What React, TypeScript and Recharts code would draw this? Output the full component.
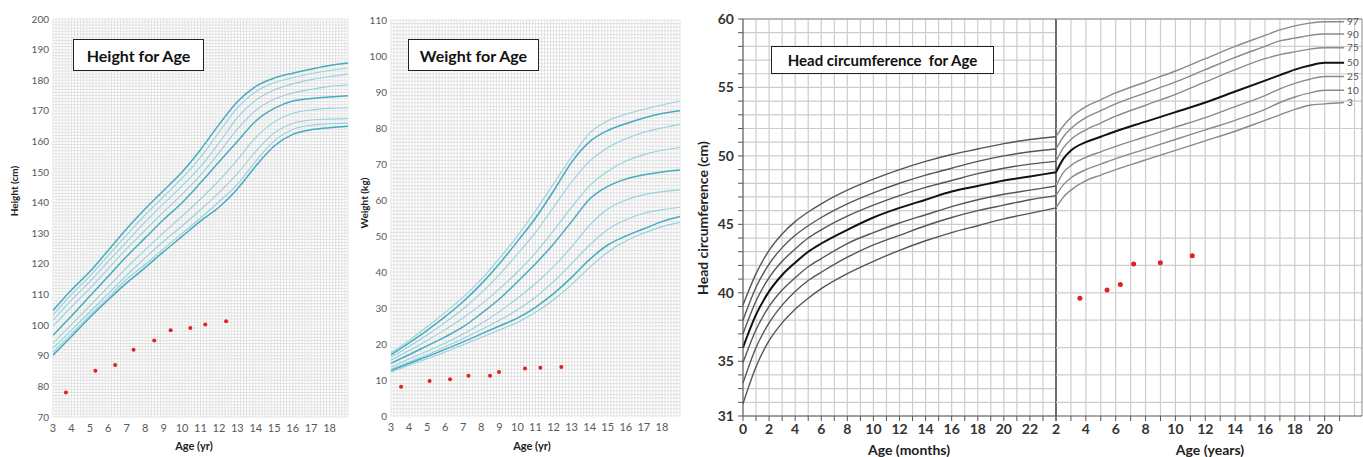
import React from 'react';
import { ComposedChart, Line, XAxis, YAxis, CartesianGrid, ReferenceLine, LabelList } from 'recharts';

// ---- Height for age (cm), ages 3-19 yr, percentile curves (top to bottom)
const GROWTH_AGES = [3, 4, 5, 6, 7, 8, 9, 10, 11, 12, 13, 14, 15, 16, 17, 18, 19];
const HT_P97 = [104.8, 111.5, 117.5, 124.5, 131.5, 138, 144, 150, 157.3, 165.5, 173, 178, 180.7, 182.3, 183.6, 184.8, 185.6];
const HT_P95 = [103.3, 110, 116, 122.8, 129.5, 136, 142, 148, 154.8, 163, 171, 176.3, 179.2, 180.8, 182.2, 183.2, 184];
const HT_P90 = [101.6, 108.2, 114.2, 120.8, 127.3, 133.7, 139.7, 145.5, 151.8, 159.5, 167.8, 173.5, 176.8, 178.8, 180.2, 181.2, 182];
const HT_P75 = [99.7, 106, 112, 118.5, 125, 131, 137, 142.7, 149, 156.3, 164, 170.2, 173.8, 175.8, 177, 178, 178.5];
const HT_P50 = [96.7, 103, 109.5, 116, 122.5, 128.5, 134.5, 140, 146.5, 153.3, 160, 166.7, 170.8, 173.2, 174, 174.5, 174.9];
const HT_P25 = [94.1, 100.2, 106.3, 112.5, 118.8, 124.6, 130.2, 135.6, 141.2, 147.2, 154, 161.3, 166.4, 169.2, 170.3, 170.8, 171];
const HT_P10 = [92.5, 98.4, 104.3, 110.3, 116.3, 122, 127.4, 132.4, 137.7, 143.3, 149.5, 156.8, 162.8, 165.9, 167, 167.3, 167.5];
const HT_P5 = [91.2, 97.2, 103.2, 109, 115, 119.8, 125, 130, 135, 140.3, 146, 153.6, 160.2, 163.9, 165.3, 165.8, 166];
const HT_P3 = [90.2, 96.3, 102.5, 108.3, 113.8, 118.8, 124, 129, 134, 138.5, 144.5, 152, 158.5, 162.3, 163.8, 164.5, 165];
const HT_PT_AGE = [3.7, 5.3, 6.37, 7.37, 8.49, 9.38, 10.45, 11.26, 12.39];
const HT_PT_VAL = [78, 85.1, 87, 92, 95, 98.3, 99.1, 100.2, 101.3];

// ---- Weight for age (kg)
const WT_P97 = [17.5, 21, 24.8, 28.8, 33, 38, 43.8, 50, 57, 64.5, 72, 78.6, 82, 83.8, 85.2, 86.4, 87.5];
const WT_P95 = [17, 20.3, 23.8, 27.6, 31.8, 36.7, 42.3, 48.5, 55, 62.5, 70.5, 76.2, 79.3, 81.2, 82.8, 84, 84.8];
const WT_P90 = [16.3, 19.3, 22.5, 26, 29.8, 34.2, 39.3, 45, 51, 58, 65, 70.8, 74.5, 77, 78.8, 80, 81];
const WT_P75 = [15.5, 18.2, 21, 24, 27.3, 31, 35.3, 40, 45.3, 51.5, 58, 64, 68, 70.8, 72.6, 73.8, 74.6];
const WT_P50 = [14.6, 17, 19.5, 22, 24.8, 28.5, 32.5, 37.3, 42.3, 47.8, 54, 60.3, 63.8, 65.8, 67, 67.8, 68.3];
const WT_P25 = [13.6, 15.8, 18, 20.3, 22.8, 25.7, 29, 32.7, 36.8, 41.5, 47, 53, 57.5, 60, 61.5, 62.3, 62.8];
const WT_P10 = [13, 15, 17, 19.2, 21.5, 24, 26.6, 29.5, 33, 37.3, 42.3, 47.5, 51.8, 54.5, 56.3, 57.3, 58];
const WT_P5 = [12.6, 14.6, 16.5, 18.5, 20.6, 22.8, 25, 27.2, 30.2, 34, 38.5, 43.5, 47.5, 50, 52, 54, 55.4];
const WT_P3 = [12.2, 14.1, 15.9, 17.8, 19.8, 21.8, 23.9, 26, 28.8, 32.3, 36.5, 41.3, 45.5, 48.6, 50.8, 52.6, 53.8];
const WT_PT_AGE = [3.56, 5.14, 6.27, 7.29, 8.48, 8.98, 10.42, 11.27, 12.43];
const WT_PT_VAL = [8.1, 9.7, 10.2, 11.2, 11.2, 12.2, 13.2, 13.4, 13.6];

// ---- Head circumference (cm): birth-24 months, then 2-21 years
const HC_MONTHS = [0, 1, 2, 3, 4, 5, 6, 8, 10, 12, 14, 16, 18, 20, 22, 24];
const HCM_P97 = [39.1, 41.4, 43.1, 44.3, 45.2, 45.9, 46.5, 47.5, 48.3, 49.0, 49.6, 50.1, 50.5, 50.9, 51.2, 51.4];
const HCM_P90 = [38.0, 40.4, 42.1, 43.3, 44.2, 44.9, 45.5, 46.5, 47.3, 48.0, 48.6, 49.1, 49.6, 50.0, 50.3, 50.5];
const HCM_P75 = [37.0, 39.4, 41.1, 42.3, 43.2, 44.0, 44.6, 45.6, 46.4, 47.1, 47.7, 48.2, 48.7, 49.1, 49.4, 49.6];
const HCM_P50 = [36.0, 38.4, 40.1, 41.3, 42.2, 43.0, 43.6, 44.6, 45.5, 46.2, 46.8, 47.4, 47.8, 48.2, 48.5, 48.8];
const HCM_P25 = [34.9, 37.3, 39.0, 40.2, 41.1, 41.9, 42.5, 43.6, 44.4, 45.1, 45.7, 46.3, 46.8, 47.2, 47.5, 47.8];
const HCM_P10 = [33.4, 36.0, 37.8, 39.1, 40.1, 40.9, 41.5, 42.6, 43.5, 44.2, 44.9, 45.5, 46.0, 46.4, 46.8, 47.1];
const HCM_P3 = [31.9, 34.6, 36.5, 37.8, 38.8, 39.6, 40.3, 41.4, 42.3, 43.1, 43.8, 44.4, 44.9, 45.4, 45.8, 46.2];

const HC_YEARS = [2, 2.5, 3, 4, 5, 6, 8, 10, 12, 14, 16, 17, 18, 19, 20, 21.3];
const HCY_P97 = [51.4, 52.2, 52.8, 53.6, 54.1, 54.6, 55.4, 56.2, 57.1, 58.0, 58.8, 59.2, 59.5, 59.7, 59.8, 59.8];
const HCY_P90 = [50.5, 51.4, 52.0, 52.8, 53.3, 53.8, 54.6, 55.4, 56.3, 57.2, 58.0, 58.4, 58.6, 58.8, 58.9, 58.9];
const HCY_P75 = [49.6, 50.6, 51.2, 51.9, 52.4, 52.9, 53.7, 54.5, 55.4, 56.3, 57.1, 57.4, 57.6, 57.8, 57.9, 57.9];
const HCY_P50 = [48.8, 49.8, 50.4, 51.0, 51.4, 51.8, 52.5, 53.2, 53.9, 54.7, 55.5, 55.9, 56.3, 56.6, 56.8, 56.8];
const HCY_P25 = [47.8, 48.8, 49.3, 49.9, 50.3, 50.7, 51.4, 52.1, 52.8, 53.6, 54.4, 54.9, 55.3, 55.6, 55.8, 55.8];
const HCY_P10 = [47.1, 47.9, 48.4, 49.0, 49.4, 49.8, 50.5, 51.2, 51.9, 52.6, 53.4, 53.9, 54.3, 54.6, 54.8, 54.8];
const HCY_P3 = [46.2, 47.0, 47.5, 48.2, 48.6, 49.0, 49.7, 50.4, 51.1, 51.8, 52.6, 53.0, 53.4, 53.7, 53.8, 53.9];
const HC_PT_AGE = [3.6, 5.42, 6.31, 7.2, 8.99, 11.13];
const HC_PT_VAL = [39.6, 40.2, 40.6, 42.1, 42.2, 42.7];

const PCT_KEYS = ['p97', 'p95', 'p90', 'p75', 'p50', 'p25', 'p10', 'p5', 'p3'];
const HC_KEYS = ['p97', 'p90', 'p75', 'p50', 'p25', 'p10', 'p3'];
const HC_PCT_LABELS = ['97', '90', '75', '50', '25', '10', '3'];

// tick labels
const HT_Y_TICKS = [70, 80, 90, 100, 110, 120, 130, 140, 150, 160, 170, 180, 190, 200];
const WT_Y_TICKS = [0, 10, 20, 30, 40, 50, 60, 70, 80, 90, 100, 110];
const AGE_TICKS = [3, 4, 5, 6, 7, 8, 9, 10, 11, 12, 13, 14, 15, 16, 17, 18];
const HC_Y_LABELS = [31, 35, 40, 45, 50, 55, 60];
const HC_MONTH_LABELS = [0, 2, 4, 6, 8, 10, 12, 14, 16, 18, 20, 22];
const HC_YEAR_LABELS = [2, 4, 6, 8, 10, 12, 14, 16, 18, 20];

const range = (a: number, b: number, step: number) => {
  const out: number[] = [];
  for (let v = a; v <= b + 1e-9; v += step) out.push(+v.toFixed(4));
  return out;
};

function buildRows(xKey: string, xs: number[], series: [string, number[]][]) {
  return xs.map((x, i) => {
    const row: Record<string, number> = { [xKey]: x };
    series.forEach(([k, vals]) => { row[k] = vals[i]; });
    return row;
  });
}

const heightRows = buildRows('age', GROWTH_AGES, [
  ['p97', HT_P97], ['p95', HT_P95], ['p90', HT_P90], ['p75', HT_P75], ['p50', HT_P50],
  ['p25', HT_P25], ['p10', HT_P10], ['p5', HT_P5], ['p3', HT_P3],
]);
const weightRows = buildRows('age', GROWTH_AGES, [
  ['p97', WT_P97], ['p95', WT_P95], ['p90', WT_P90], ['p75', WT_P75], ['p50', WT_P50],
  ['p25', WT_P25], ['p10', WT_P10], ['p5', WT_P5], ['p3', WT_P3],
]);
const hcMonthRows = buildRows('m', HC_MONTHS, [
  ['p97', HCM_P97], ['p90', HCM_P90], ['p75', HCM_P75], ['p50', HCM_P50],
  ['p25', HCM_P25], ['p10', HCM_P10], ['p3', HCM_P3],
]);
const hcYearRows = buildRows('yr', HC_YEARS, [
  ['p97', HCY_P97], ['p90', HCY_P90], ['p75', HCY_P75], ['p50', HCY_P50],
  ['p25', HCY_P25], ['p10', HCY_P10], ['p3', HCY_P3],
]);
const heightPts = HT_PT_AGE.map((age, i) => ({ age, v: HT_PT_VAL[i] }));
const weightPts = WT_PT_AGE.map((age, i) => ({ age, v: WT_PT_VAL[i] }));
const hcPts = HC_PT_AGE.map((yr, i) => ({ yr, v: HC_PT_VAL[i] }));

const TEAL_DARK = '#45abc0';
const TEAL_LIGHT = '#95d2dd';
const DOT_RED = '#e31e24';

interface PanelProps {
  left: number;
  width: number;
  rows: Record<string, number>[];
  darkKeys: string[];
  pts: { age: number; v: number }[];
  yDomain: [number, number];
  yTicks: number[];
  yStep: number;
  margin: { top: number; right: number; bottom: number; left: number };
  yAxisWidth: number;
}

function GrowthPanel({ left, width, rows, darkKeys, pts, yDomain, yTicks, yStep, margin, yAxisWidth }: PanelProps) {
  return (
    <div style={{ position: 'absolute', left, top: 0 }}>
      <ComposedChart width={width} height={457} margin={margin}>
        <CartesianGrid
          horizontalValues={range(yDomain[0], yDomain[1], yStep)}
          verticalValues={range(3, 19, 1 / 6)}
          stroke="#d9d9d9"
          strokeWidth={0.7}
        />
        <XAxis
          type="number"
          dataKey="age"
          domain={[3, 19]}
          ticks={AGE_TICKS}
          interval={0}
          allowDataOverflow
          axisLine={false}
          tickLine={false}
          tickSize={0}
          tickMargin={7}
          height={25}
          tick={{ fill: '#595959', fontSize: 11 }}
        />
        <YAxis
          type="number"
          domain={yDomain}
          ticks={yTicks}
          interval={0}
          allowDataOverflow
          axisLine={false}
          tickLine={false}
          tickSize={0}
          tickMargin={4}
          width={yAxisWidth}
          tick={{ fill: '#595959', fontSize: 10 }}
        />
        {PCT_KEYS.map((k) => (
          <Line
            key={k}
            data={rows}
            dataKey={k}
            type="monotone"
            stroke={darkKeys.includes(k) ? TEAL_DARK : TEAL_LIGHT}
            strokeWidth={darkKeys.includes(k) ? 1.5 : 1.1}
            dot={false}
            activeDot={false}
            isAnimationActive={false}
          />
        ))}
        <Line
          data={pts}
          dataKey="v"
          stroke="none"
          dot={{ r: 2, fill: DOT_RED, stroke: 'none' }}
          activeDot={false}
          isAnimationActive={false}
        />
      </ComposedChart>
    </div>
  );
}

const boxStyle: React.CSSProperties = {
  position: 'absolute',
  background: '#fff',
  border: '1.5px solid #222',
  boxSizing: 'border-box',
  fontWeight: 700,
  color: '#111',
  display: 'flex',
  alignItems: 'center',
  justifyContent: 'center',
  whiteSpace: 'pre',
};

const vTitle = (x: number, y: number, size: number): React.CSSProperties => ({
  position: 'absolute',
  left: x,
  top: y,
  transform: 'translate(-50%, -50%) rotate(-90deg)',
  fontWeight: 700,
  fontSize: size,
  color: '#222',
  whiteSpace: 'nowrap',
});

const hTitle = (x: number, y: number, size: number): React.CSSProperties => ({
  position: 'absolute',
  left: x,
  top: y,
  transform: 'translate(-50%, -50%)',
  fontWeight: 700,
  fontSize: size,
  color: '#222',
  whiteSpace: 'nowrap',
});

const hcTickFmt = (labels: number[]) => (v: number) => (labels.includes(v) ? String(v) : '');

export default function App() {
  return (
    <div style={{ position: 'absolute', left: 0, top: 0, width: 1363, height: 457, background: '#fff', fontFamily: 'Lato, "Open Sans", sans-serif', overflow: 'hidden' }}>
      <GrowthPanel
        left={0}
        width={360}
        rows={heightRows}
        darkKeys={['p97', 'p50', 'p3']}
        pts={heightPts}
        yDomain={[70, 200]}
        yTicks={HT_Y_TICKS}
        yStep={1}
        margin={{ top: 19, right: 12, bottom: 15, left: 13 }}
        yAxisWidth={40}
      />
      <GrowthPanel
        left={360}
        width={335}
        rows={weightRows}
        darkKeys={['p95', 'p50', 'p5']}
        pts={weightPts}
        yDomain={[0, 110]}
        yTicks={WT_Y_TICKS}
        yStep={1}
        margin={{ top: 20, right: 15, bottom: 16, left: 1 }}
        yAxisWidth={30}
      />

      {/* head circumference, months part */}
      <div style={{ position: 'absolute', left: 690, top: 0 }}>
        <ComposedChart width={368} height={457} margin={{ top: 19, right: 2, bottom: 11, left: 8 }}>
          <CartesianGrid horizontalValues={range(31, 60, 1)} verticalValues={range(0, 24, 1)} stroke="#cdcdcd" strokeWidth={1.2} />
          <XAxis
            type="number"
            dataKey="m"
            domain={[0, 24]}
            ticks={range(0, 24, 1)}
            interval={0}
            tickFormatter={hcTickFmt(HC_MONTH_LABELS)}
            axisLine={{ stroke: '#555' }}
            tickLine={{ stroke: '#555' }}
            tickSize={5}
            tickMargin={3}
            height={30}
            tick={{ fill: '#333', fontSize: 14, fontWeight: 700 }}
          />
          <YAxis
            type="number"
            domain={[31, 60]}
            ticks={range(31, 60, 1)}
            interval={0}
            tickFormatter={hcTickFmt(HC_Y_LABELS)}
            axisLine={{ stroke: '#555' }}
            tickLine={{ stroke: '#555' }}
            tickSize={5}
            tickMargin={4}
            width={45}
            tick={{ fill: '#333', fontSize: 14, fontWeight: 700 }}
          />
          <ReferenceLine y={60} stroke="#888" />
          <ReferenceLine x={24} stroke="#444" strokeWidth={1.5} />
          {HC_KEYS.map((k) => (
            <Line
              key={k}
              data={hcMonthRows}
              dataKey={k}
              type="monotone"
              stroke={k === 'p50' ? '#111' : '#555'}
              strokeWidth={k === 'p50' ? 2 : 1.4}
              dot={false}
              activeDot={false}
              isAnimationActive={false}
            />
          ))}
        </ComposedChart>
      </div>

      {/* head circumference, years part */}
      <div style={{ position: 'absolute', left: 1040, top: 0 }}>
        <ComposedChart width={323} height={457} margin={{ top: 19, right: 1, bottom: 11, left: 16 }}>
          <CartesianGrid horizontalValues={range(31, 60, 1)} verticalValues={range(3, 22, 1)} stroke="#cdcdcd" strokeWidth={1.2} />
          <XAxis
            type="number"
            dataKey="yr"
            domain={[2, 22.5]}
            ticks={range(2, 21, 1)}
            interval={0}
            allowDataOverflow
            tickFormatter={hcTickFmt(HC_YEAR_LABELS)}
            axisLine={{ stroke: '#555' }}
            tickLine={{ stroke: '#555' }}
            tickSize={5}
            tickMargin={3}
            height={30}
            tick={{ fill: '#333', fontSize: 14, fontWeight: 700 }}
          />
          <YAxis hide type="number" domain={[31, 60]} allowDataOverflow />
          <ReferenceLine y={60} stroke="#888" />
          <ReferenceLine x={22.5} stroke="#888" />
          {HC_KEYS.map((k, i) => (
            <Line
              key={k}
              data={hcYearRows}
              dataKey={k}
              type="monotone"
              stroke={k === 'p50' ? '#111' : '#8a8a8a'}
              strokeWidth={k === 'p50' ? 2 : 1.4}
              dot={false}
              activeDot={false}
              isAnimationActive={false}
            >
              <LabelList
                dataKey={k}
                content={(p: any) =>
                  p.index === HC_YEARS.length - 1 ? (
                    <text x={p.x + 3} y={p.y} dy="0.35em" fontSize={10} fill="#555">
                      {HC_PCT_LABELS[i]}
                    </text>
                  ) : null
                }
              />
            </Line>
          ))}
          <Line
            data={hcPts}
            dataKey="v"
            stroke="none"
            dot={{ r: 2.5, fill: DOT_RED, stroke: 'none' }}
            activeDot={false}
            isAnimationActive={false}
          />
        </ComposedChart>
      </div>

      {/* panel titles */}
      <div style={{ ...boxStyle, left: 73, top: 39, width: 131, height: 32, fontSize: 16 }}>Height for Age</div>
      <div style={{ ...boxStyle, left: 408, top: 39, width: 131, height: 32, fontSize: 16 }}>Weight for Age</div>
      <div style={{ ...boxStyle, left: 771, top: 46, width: 223, height: 28, fontSize: 15 }}>Head circumference  for Age</div>

      {/* axis titles */}
      <div style={vTitle(14, 191, 10)}>Height (cm)</div>
      <div style={hTitle(194, 445, 11)}>Age (yr)</div>
      <div style={vTitle(364, 203, 10)}>Weight (kg)</div>
      <div style={hTitle(532, 445, 11)}>Age (yr)</div>
      <div style={vTitle(702, 218, 14)}>Head circumference (cm)</div>
      <div style={hTitle(909, 449, 14)}>Age (months)</div>
      <div style={hTitle(1210, 449, 14)}>Age (years)</div>
    </div>
  );
}
